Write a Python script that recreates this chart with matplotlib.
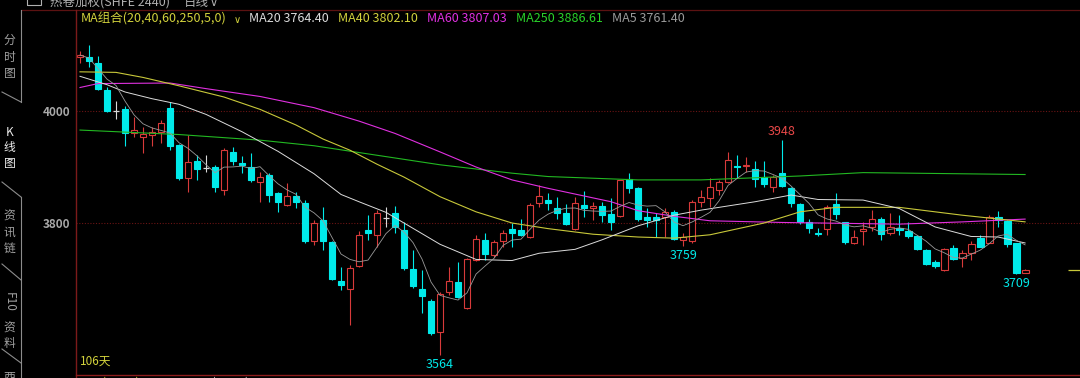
import numpy as np
import pandas as pd
import matplotlib
matplotlib.use('Agg')
import matplotlib.pyplot as plt
from matplotlib.patches import Rectangle
from matplotlib.lines import Line2D

plt.rcParams['font.family'] = ['Noto Sans CJK SC', 'DejaVu Sans']

W, H = 1080, 378

# daily candles, 106 sessions
opens = [4096, 4096, 4086, 4037, 4000, 4003, 3961, 3954, 3958, 3963,
         4005, 3939, 3880, 3911, 3899, 3900, 3859, 3926, 3908, 3900,
         3874, 3885, 3853, 3832, 3849, 3836, 3767, 3805, 3766, 3696,
         3682, 3723, 3788, 3779, 3809, 3817, 3788, 3717, 3683, 3661,
         3605, 3676, 3695, 3649, 3734, 3770, 3743, 3767, 3790, 3788,
         3775, 3836, 3841, 3826, 3817, 3789, 3832, 3826, 3830, 3816,
         3813, 3878, 3862, 3810, 3811, 3811, 3820, 3770, 3767, 3838,
         3845, 3859, 3874, 3902, 3901, 3896, 3883, 3864, 3889, 3863,
         3834, 3801, 3783, 3789, 3834, 3801, 3765, 3786, 3793, 3808,
         3782, 3791, 3786, 3776, 3752, 3730, 3716, 3755, 3737, 3746,
         3773, 3765, 3811, 3804, 3764, 3710]
highs = [4107, 4118, 4098, 4043, 4018, 4009, 3989, 3971, 3971, 3984,
         4017, 3941, 3957, 3921, 3921, 3904, 3934, 3935, 3920, 3925,
         3892, 3889, 3856, 3871, 3856, 3841, 3805, 3829, 3768, 3722,
         3725, 3785, 3814, 3823, 3829, 3830, 3801, 3752, 3716, 3664,
         3676, 3722, 3731, 3737, 3779, 3783, 3770, 3788, 3800, 3808,
         3835, 3868, 3853, 3847, 3834, 3847, 3857, 3838, 3838, 3844,
         3877, 3889, 3864, 3826, 3818, 3827, 3823, 3782, 3841, 3859,
         3880, 3877, 3927, 3921, 3918, 3910, 3911, 3886, 3948, 3865,
         3836, 3808, 3791, 3832, 3853, 3802, 3788, 3802, 3823, 3811,
         3817, 3814, 3802, 3779, 3753, 3734, 3755, 3761, 3752, 3767,
         3779, 3814, 3821, 3805, 3765, 3718]
lows = [4085, 4079, 4037, 3999, 3986, 3937, 3954, 3925, 3937, 3943,
        3930, 3877, 3856, 3877, 3892, 3856, 3850, 3904, 3889, 3874,
        3838, 3838, 3820, 3830, 3826, 3764, 3761, 3752, 3698, 3680,
        3618, 3721, 3770, 3758, 3793, 3782, 3716, 3684, 3639, 3600,
        3564, 3671, 3666, 3646, 3733, 3734, 3740, 3758, 3758, 3776,
        3773, 3829, 3823, 3808, 3796, 3788, 3811, 3805, 3802, 3788,
        3810, 3853, 3804, 3793, 3775, 3775, 3770, 3759, 3765, 3829,
        3829, 3850, 3872, 3880, 3892, 3865, 3865, 3856, 3864, 3829,
        3798, 3783, 3776, 3779, 3808, 3763, 3763, 3760, 3785, 3770,
        3779, 3779, 3773, 3752, 3725, 3720, 3714, 3734, 3722, 3734,
        3757, 3764, 3793, 3758, 3709, 3710]
closes = [4100, 4089, 4039, 4000, 4000, 3961, 3966, 3959, 3963, 3978,
          3937, 3880, 3909, 3896, 3899, 3865, 3930, 3911, 3903, 3877,
          3882, 3850, 3838, 3849, 3837, 3767, 3800, 3767, 3700, 3689,
          3719, 3779, 3782, 3817, 3809, 3792, 3719, 3688, 3670, 3604,
          3673, 3697, 3668, 3735, 3771, 3745, 3766, 3783, 3783, 3779,
          3833, 3848, 3836, 3817, 3798, 3835, 3827, 3830, 3814, 3801,
          3876, 3862, 3807, 3805, 3805, 3820, 3771, 3775, 3838, 3847,
          3865, 3873, 3913, 3900, 3904, 3878, 3869, 3882, 3866, 3835,
          3801, 3791, 3780, 3829, 3816, 3766, 3775, 3789, 3807, 3780,
          3792, 3788, 3777, 3754, 3727, 3723, 3754, 3735, 3747, 3763,
          3758, 3811, 3805, 3763, 3710, 3716]

# moving averages (candle index, value)
ma20_at = [0, 3, 5, 8, 11, 14, 18, 22, 26, 29, 31, 34, 40, 44, 48, 51, 55, 58,
           62, 66, 69, 75, 79, 82, 87, 91, 95, 99, 102, 105]
ma20 = [4062, 4047, 4034, 4022, 4012, 3994, 3963, 3928, 3888, 3851, 3838, 3819,
        3762, 3735, 3733, 3746, 3753, 3770, 3795, 3814, 3823, 3838, 3850, 3842,
        3841, 3826, 3793, 3776, 3775, 3764.4]
ma40_at = [0, 4, 7, 11, 16, 20, 24, 27, 30, 33, 36, 40, 44, 48, 52, 57, 62, 66,
           70, 76, 80, 84, 91, 98, 105]
ma40 = [4070, 4069, 4060, 4045, 4025, 4003, 3975, 3950, 3930, 3905, 3882, 3847,
        3820, 3800, 3790, 3780, 3775, 3773, 3779, 3800, 3820, 3828, 3828, 3814,
        3802.1]
ma60_at = [0, 2, 10, 14, 20, 26, 31, 35, 40, 44, 48, 52, 59, 62, 66, 70, 78, 91,
           98, 105]
ma60 = [4042, 4049, 4050, 4040, 4026, 4006, 3982, 3960, 3927, 3900, 3877, 3862,
        3838, 3822, 3812, 3804, 3801, 3798, 3802, 3807.03]
ma250_at = [0, 11, 20, 26, 33, 40, 48, 52, 62, 69, 80, 87, 105]
ma250 = [3966, 3958, 3948, 3938, 3921, 3904, 3889, 3883, 3877, 3877, 3884, 3890,
         3886.61]
ma5 = pd.Series(closes).rolling(5, min_periods=1).mean()

legend_text = ['MA组合(20,40,60,250,5,0)', 'MA20 3764.40', 'MA40 3802.10',
               'MA60 3807.03', 'MA250 3886.61', 'MA5 3761.40']
tabs = ['分时图', 'K线图', '资讯链', 'F10资料']

UP = '#d83a3a'
DOWN = '#00eaea'
DOJI = '#d8d8d8'
C_MA20 = '#dcdcdc'
C_MA40 = '#c8c83a'
C_MA60 = '#e030e0'
C_MA250 = '#22b822'
C_MA5 = '#9a9a9a'
AXIS_RED = '#7c1a1a'


def fx(x):
  return x / W


def fy(y):
  return 1 - y / H


fig = plt.figure(figsize=(W / 100, H / 100), dpi=100, facecolor='black')
ax = fig.add_axes([fx(76), 3 / H, (W - 76) / W, 365 / H])
ax.set_facecolor('black')
ax.set_xlim(-0.444, 111.1)
ax.set_ylim(3528.6, 4180.4)
for s in ax.spines.values():
  s.set_visible(False)
ax.set_xticks([])
ax.set_yticks([3800, 4000])
ax.tick_params(axis='y', length=0, pad=4, labelcolor='#a8a8a8', labelsize=8.5)
for lab in ax.get_yticklabels():
  lab.set_fontweight('bold')
for lv in [3800, 4000]:
  ax.axhline(lv, color='#6a1414', lw=0.8, ls=(0, (1, 1.5)), zorder=0)

# candles
bw = 0.76
for i, (o, h, l, c) in enumerate(zip(opens, highs, lows, closes)):
  if c > o:
    col = UP
  elif c < o:
    col = DOWN
  else:
    col = DOJI
  ax.vlines(i, l, h, color=col, lw=0.8, zorder=2)
  if c == o:
    ax.hlines(o, i - bw / 2, i + bw / 2, color=col, lw=0.9, zorder=3)
  elif c > o:
    ax.add_patch(Rectangle((i - bw / 2, o), bw, c - o, fc='black', ec=col,
                           lw=0.8, zorder=3))
  else:
    ax.add_patch(Rectangle((i - bw / 2, c), bw, o - c, fc=col, ec=col,
                           lw=0.8, zorder=3))

# moving averages
ax.plot(ma250_at, ma250, color=C_MA250, lw=0.8, zorder=4)
ax.plot(ma60_at, ma60, color=C_MA60, lw=0.8, zorder=4)
ax.plot(ma40_at, ma40, color=C_MA40, lw=0.8, zorder=4)
ax.plot(ma20_at, ma20, color=C_MA20, lw=0.7, zorder=4)
ax.plot(range(len(ma5)), ma5, color=C_MA5, lw=0.6, zorder=4)

# last price stub on the right edge
ax.hlines(closes[-1], 109.8, 111.1, color=C_MA40, lw=0.9)

# extreme price labels
for i, kind, col in [(78, 'high', '#e84848'), (40, 'low', DOWN),
                     (67, 'low', DOWN), (104, 'low', DOWN)]:
  if kind == 'high':
    v = highs[i]
    ax.annotate(str(v), xy=(i, v), xytext=(0, 1.5), textcoords='offset points',
                ha='center', va='bottom', color=col, fontsize=9)
  else:
    v = lows[i]
    ax.annotate(str(v), xy=(i, v), xytext=(0, -2), textcoords='offset points',
                ha='center', va='top', color=col, fontsize=9)

ax.text(0.0, 3553, '106天', color='#d2d23c', fontsize=8.5, ha='left',
        va='center', transform=ax.transData)

# frame lines
fig.add_artist(Line2D([fx(22), 1], [fy(10), fy(10)], color='#5c1212', lw=0.9))
fig.add_artist(Line2D([fx(75.5), fx(75.5)], [fy(10), 0], color=AXIS_RED, lw=1.0))
fig.add_artist(Line2D([fx(75.5), 1], [fy(375), fy(375)], color='#8c1c1c', lw=1.0))

# legend row
xs = [81, 249, 338, 427, 516, 612]
cols = ['#d2d23c', C_MA20, '#d2d23c', C_MA60, '#2ad22a', C_MA5]
for t, x, c in zip(legend_text, xs, cols):
  fig.text(fx(x), fy(19), t, color=c, fontsize=9, ha='left', va='center')
fig.text(fx(234), fy(20), '∨', color='#d2d23c', fontsize=7, ha='left',
         va='center', family='DejaVu Sans')

# title, cut off by the top edge
fig.text(fx(50), fy(6), '热卷加权(SHFE 2440)', color='#b0b0b0', fontsize=9,
         ha='left', va='baseline')
fig.text(fx(184), fy(6), '日线', color='#b0b0b0', fontsize=9, ha='left',
         va='baseline')
fig.text(fx(210), fy(6), '∨', color='#b0b0b0', fontsize=8, ha='left',
         va='baseline', family='DejaVu Sans')
fig.add_artist(Rectangle((fx(27), fy(5)), 14 / W, 10 / H, fill=False,
                         ec='#b0b0b0', lw=0.8))

# indicator row below, mostly cut off
for t, x, c in [('VOL(10.00)', 81, '#d2d23c'), ('20000.00(10.73)', 162, '#d0d0d0'),
                ('10074.00', 271, '#d0d0d0'), ('10017.00', 331, '#d0d0d0')]:
  fig.text(fx(x), fy(377), t, color=c, fontsize=8.5, ha='left', va='top')

# side tabs
side = '#8c8c8c'
fig.add_artist(Line2D([fx(21), fx(21)], [fy(10), fy(102)], color=side, lw=0.8))
fig.add_artist(Line2D([fx(21), fx(21)], [fy(197), 0], color=side, lw=0.8))
for y0, y1 in [(92, 102), (182, 197), (264, 280), (349, 363)]:
  fig.add_artist(Line2D([fx(2), fx(21)], [fy(y0), fy(y1)], color=side, lw=0.8))

tab_y = [[40, 57, 74], [132, 148, 164], [216, 232, 248]]
for label, ys in zip(tabs[:3], tab_y):
  col = '#ececec' if label.startswith('K') else '#a0a0a0'
  for ch, y in zip(label, ys):
    fig.text(fx(9.5), fy(y), ch, color=col, fontsize=8.5, ha='center',
             va='center')
fig.text(fx(9.5), fy(302), tabs[3][:3], color='#a0a0a0', fontsize=8.5,
         ha='center', va='center', rotation=270)
for ch, y in zip(tabs[3][3:], [328, 343]):
  fig.text(fx(9.5), fy(y), ch, color='#a0a0a0', fontsize=8.5, ha='center',
           va='center')
fig.text(fx(9.5), fy(377), '西', color='#a0a0a0', fontsize=8.5, ha='center',
         va='center')

fig.savefig('out.png', dpi=100, facecolor='black')
